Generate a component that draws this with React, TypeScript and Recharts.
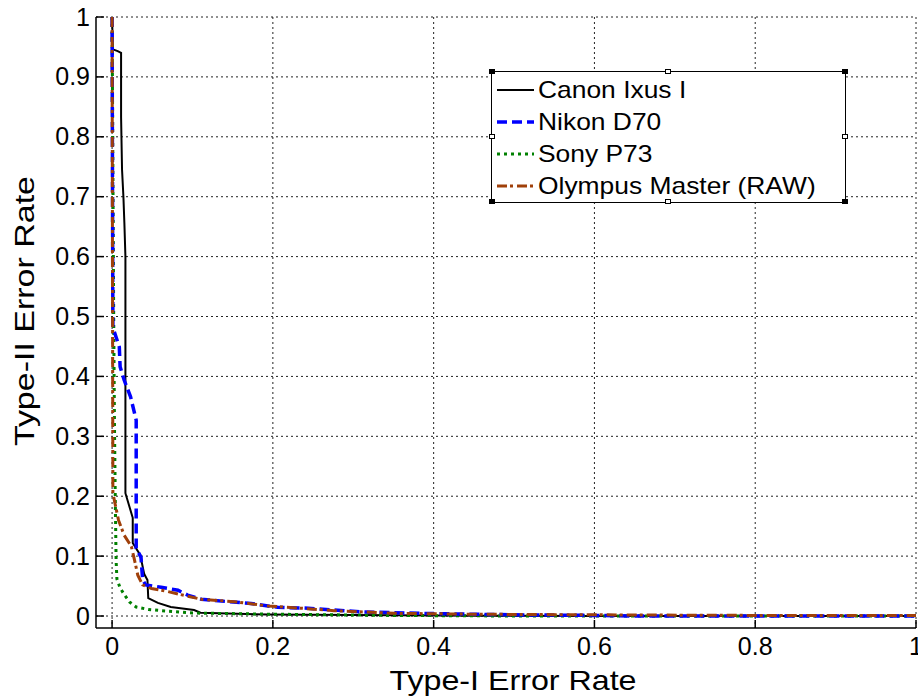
import React from 'react';
import { LineChart, Line, XAxis, YAxis, CartesianGrid } from 'recharts';

const xTicks = [0, 0.2, 0.4, 0.6, 0.8, 1];
const yTicks = [0, 0.1, 0.2, 0.3, 0.4, 0.5, 0.6, 0.7, 0.8, 0.9, 1];

const canon = [
  { x: 0, y: 1 }, { x: 0.001, y: 0.946 }, { x: 0.007, y: 0.943 }, { x: 0.0112, y: 0.94 },
  { x: 0.0112, y: 0.833 }, { x: 0.0124, y: 0.745 }, { x: 0.0141, y: 0.7 }, { x: 0.0153, y: 0.656 },
  { x: 0.0166, y: 0.6 }, { x: 0.0166, y: 0.205 }, { x: 0.0257, y: 0.164 }, { x: 0.0257, y: 0.122 },
  { x: 0.035, y: 0.102 }, { x: 0.04, y: 0.07 }, { x: 0.044, y: 0.06 }, { x: 0.045, y: 0.03 },
  { x: 0.057, y: 0.022 }, { x: 0.073, y: 0.015 }, { x: 0.102, y: 0.01 }, { x: 0.11, y: 0.0055 },
  { x: 0.144, y: 0.004 }, { x: 0.194, y: 0.0025 }, { x: 0.3, y: 0.0015 }, { x: 0.45, y: 0.0005 },
  { x: 0.6, y: 0 }, { x: 1, y: 0 },
];

const nikon = [
  { x: 0, y: 1 }, { x: 0.001, y: 0.482 }, { x: 0.009, y: 0.449 }, { x: 0.01, y: 0.416 },
  { x: 0.015, y: 0.394 }, { x: 0.023, y: 0.366 }, { x: 0.03, y: 0.327 }, { x: 0.03, y: 0.113 },
  { x: 0.036, y: 0.098 }, { x: 0.038, y: 0.06 }, { x: 0.042, y: 0.052 }, { x: 0.061, y: 0.048 },
  { x: 0.082, y: 0.043 }, { x: 0.094, y: 0.035 }, { x: 0.111, y: 0.028 }, { x: 0.144, y: 0.024 },
  { x: 0.173, y: 0.021 }, { x: 0.206, y: 0.0145 }, { x: 0.244, y: 0.013 }, { x: 0.276, y: 0.01 },
  { x: 0.31, y: 0.007 }, { x: 0.351, y: 0.0055 }, { x: 0.4, y: 0.004 }, { x: 0.5, y: 0.002 },
  { x: 0.6, y: 0.001 }, { x: 0.65, y: 0 }, { x: 1, y: 0 },
];

const sony = [
  { x: 0, y: 1 }, { x: 0.002, y: 0.5 }, { x: 0.003, y: 0.316 }, { x: 0.004, y: 0.194 },
  { x: 0.005, y: 0.093 }, { x: 0.006, y: 0.062 }, { x: 0.01, y: 0.047 }, { x: 0.015, y: 0.036 },
  { x: 0.022, y: 0.023 }, { x: 0.03, y: 0.015 }, { x: 0.045, y: 0.011 }, { x: 0.07, y: 0.008 },
  { x: 0.1, y: 0.005 }, { x: 0.2, y: 0.003 }, { x: 0.35, y: 0.001 }, { x: 0.5, y: 0 }, { x: 1, y: 0 },
];

const olympus = [
  { x: 0, y: 1 }, { x: 0.001, y: 0.205 }, { x: 0.008, y: 0.16 }, { x: 0.015, y: 0.135 },
  { x: 0.024, y: 0.116 }, { x: 0.028, y: 0.093 }, { x: 0.032, y: 0.068 }, { x: 0.038, y: 0.052 },
  { x: 0.049, y: 0.046 }, { x: 0.069, y: 0.041 }, { x: 0.094, y: 0.033 }, { x: 0.111, y: 0.028 },
  { x: 0.152, y: 0.024 }, { x: 0.194, y: 0.0167 }, { x: 0.235, y: 0.013 }, { x: 0.276, y: 0.009 },
  { x: 0.351, y: 0.0045 }, { x: 0.45, y: 0.003 }, { x: 0.6, y: 0.002 }, { x: 0.8, y: 0.001 },
  { x: 1, y: 0.001 },
];

const seriesNames = ['Canon Ixus I', 'Nikon D70', 'Sony P73', 'Olympus Master (RAW)'];
const seriesColors = ['#000000', '#0000ff', '#008000', '#a0400a'];
const seriesDash = ['', '10 5', '3 4', '10 3 3 4'];
const seriesWidth = [2, 3.5, 3, 3];

const FONT = '"Liberation Sans", Arial, sans-serif';
const W = 918;
const H = 700;
const M = { top: 17, right: 2, left: 0, bottom: 0 };
const YW = 96;
const XH = 72;
const TL = 8;

const BottomTick = (p: any) => {
  const { x, y, payload } = p;
  return (
    <g>
      <line x1={x} x2={x} y1={y} y2={y - TL} stroke="#000" strokeWidth={1.5} />
      <text x={x} y={y + 27} textAnchor="middle" fontSize={25} fontFamily={FONT} fill="#000">
        {String(payload.value)}
      </text>
    </g>
  );
};

const TopTick = (p: any) => {
  const { x, y } = p;
  return <line x1={x} x2={x} y1={y} y2={y + TL} stroke="#000" strokeWidth={1.5} />;
};

const LeftTick = (p: any) => {
  const { x, y, payload } = p;
  return (
    <g>
      <line x1={x} x2={x + TL} y1={y} y2={y} stroke="#000" strokeWidth={1.5} />
      <text x={x - 6} y={y + 8.5} textAnchor="end" fontSize={25} fontFamily={FONT} fill="#000">
        {String(payload.value)}
      </text>
    </g>
  );
};

const RightTick = (p: any) => {
  const { x, y } = p;
  return <line x1={x} x2={x - TL} y1={y} y2={y} stroke="#000" strokeWidth={1.5} />;
};

const LegendBox = () => {
  const handles: [number, number][] = [
    [0, 0], [50, 0], [100, 0], [0, 50], [100, 50], [0, 100], [50, 100], [100, 100],
  ];
  return (
    <div
      style={{
        position: 'absolute',
        left: 491,
        top: 71,
        width: 355,
        height: 132,
        border: '1.5px solid #000',
        background: '#fff',
        boxSizing: 'border-box',
        fontFamily: FONT,
        paddingTop: 2,
      }}
    >
      {seriesNames.map((n, i) => (
        <div key={n} style={{ display: 'flex', alignItems: 'center', height: 32 }}>
          <svg width={44} height={10} style={{ marginLeft: 5 }}>
            <line
              x1={0}
              x2={37}
              y1={5}
              y2={5}
              stroke={seriesColors[i]}
              strokeWidth={seriesWidth[i]}
              strokeDasharray={seriesDash[i] || undefined}
            />
          </svg>
          <span
            style={{
              display: 'inline-block',
              fontSize: 24,
              color: '#000',
              marginLeft: -3,
              lineHeight: 1,
              whiteSpace: 'nowrap',
              transform: 'scaleX(1.1)',
              transformOrigin: 'left center',
            }}
          >
            {n}
          </span>
        </div>
      ))}
      {handles.map(([hx, hy], k) => (
        <div
          key={k}
          style={{
            position: 'absolute',
            left: `calc(${hx}% - 3.5px)`,
            top: `calc(${hy}% - 3px)`,
            width: 6,
            height: 5,
            background: hx === 50 || hy === 50 ? '#fff' : '#000',
            border: '1px solid #000',
            boxSizing: 'border-box',
          }}
        />
      ))}
    </div>
  );
};

export default function App() {
  return (
    <div style={{ position: 'absolute', left: 0, top: 0, width: W, height: H, background: '#fff' }}>
      <LineChart width={W} height={H} margin={M}>
        <CartesianGrid
          xAxisId="b"
          yAxisId="l"
          stroke="#222"
          strokeDasharray="2 3"
          strokeWidth={1}
          horizontalValues={yTicks}
          verticalValues={xTicks}
        />
        <XAxis
          xAxisId="b"
          type="number"
          dataKey="x"
          domain={[-0.02, 1]}
          ticks={xTicks}
          allowDataOverflow
          height={XH}
          tickSize={0}
          tickMargin={0}
          tickLine={false}
          axisLine={{ stroke: '#000', strokeWidth: 1.5 }}
          tick={<BottomTick />}
          interval={0}
        />
        <XAxis
          xAxisId="t"
          orientation="top"
          type="number"
          dataKey="x"
          domain={[-0.02, 1]}
          ticks={xTicks}
          allowDataOverflow
          height={0}
          tickSize={0}
          tickMargin={0}
          tickLine={false}
          axisLine={{ stroke: '#000', strokeWidth: 1.5 }}
          tick={<TopTick />}
          interval={0}
        />
        <YAxis
          yAxisId="l"
          type="number"
          dataKey="y"
          domain={[-0.02, 1]}
          ticks={yTicks}
          allowDataOverflow
          width={YW}
          tickSize={0}
          tickMargin={0}
          tickLine={false}
          axisLine={{ stroke: '#000', strokeWidth: 1.5 }}
          tick={<LeftTick />}
          interval={0}
        />
        <YAxis
          yAxisId="r"
          orientation="right"
          type="number"
          dataKey="y"
          domain={[-0.02, 1]}
          ticks={yTicks}
          allowDataOverflow
          width={0}
          tickSize={0}
          tickMargin={0}
          tickLine={false}
          axisLine={{ stroke: '#000', strokeWidth: 1.5 }}
          tick={<RightTick />}
          interval={0}
        />
        <Line
          xAxisId="b" yAxisId="l" data={canon} dataKey="y" name={seriesNames[0]}
          stroke={seriesColors[0]} strokeWidth={seriesWidth[0]} dot={false} isAnimationActive={false}
          strokeLinejoin="miter"
        />
        <Line
          xAxisId="b" yAxisId="l" data={sony} dataKey="y" name={seriesNames[2]}
          stroke={seriesColors[2]} strokeWidth={seriesWidth[2]} strokeDasharray={seriesDash[2]}
          dot={false} isAnimationActive={false}
        />
        <Line
          xAxisId="b" yAxisId="l" data={nikon} dataKey="y" name={seriesNames[1]}
          stroke={seriesColors[1]} strokeWidth={seriesWidth[1]} strokeDasharray={seriesDash[1]}
          dot={false} isAnimationActive={false}
        />
        <Line
          xAxisId="b" yAxisId="l" data={olympus} dataKey="y" name={seriesNames[3]}
          stroke={seriesColors[3]} strokeWidth={seriesWidth[3]} strokeDasharray={seriesDash[3]}
          dot={false} isAnimationActive={false}
        />
      </LineChart>
      <LegendBox />
      <svg width={W} height={H} style={{ position: 'absolute', left: 0, top: 0, pointerEvents: 'none' }}>
        <text
          x={513}
          y={690}
          textAnchor="middle"
          fontSize={28}
          fontFamily={FONT}
          textLength={247}
          lengthAdjust="spacingAndGlyphs"
          fill="#000"
        >
          Type-I Error Rate
        </text>
        <text
          transform="translate(34 311) rotate(-90)"
          textAnchor="middle"
          fontSize={27}
          fontFamily={FONT}
          textLength={270}
          lengthAdjust="spacingAndGlyphs"
          fill="#000"
        >
          Type-II Error Rate
        </text>
      </svg>
    </div>
  );
}
